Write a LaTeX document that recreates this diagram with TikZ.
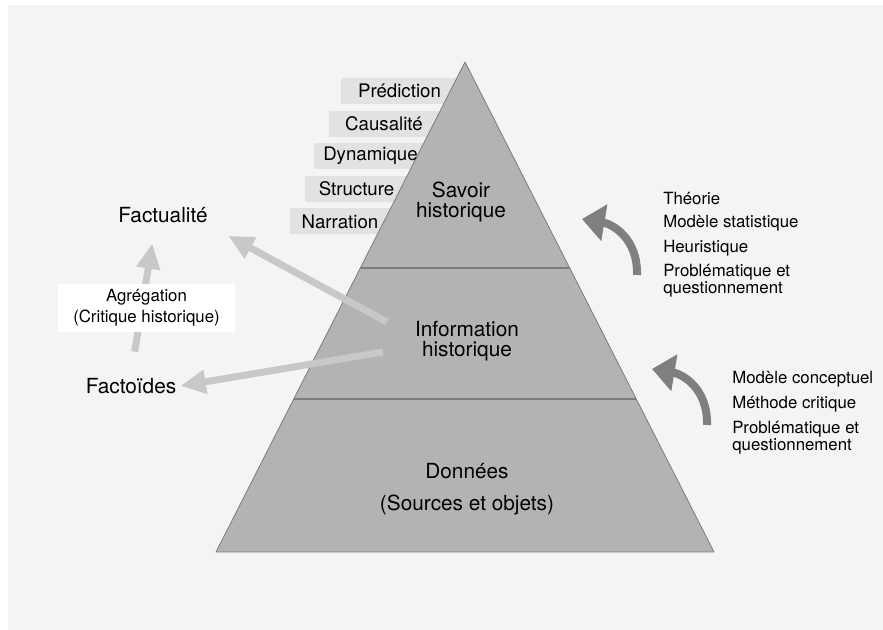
\documentclass[tikz,border=0pt]{standalone}
\usepackage{fontspec}
\setmainfont{TeX Gyre Heros}
\usetikzlibrary{arrows.meta,positioning}

\definecolor{panel}{HTML}{F4F4F4}
\definecolor{tierfill}{HTML}{B3B3B3}
\definecolor{tieredge}{HTML}{7C7C7C}
\definecolor{stepfill}{HTML}{E2E2E2}
\definecolor{flowgray}{HTML}{C8C8C8}
\definecolor{turngray}{HTML}{7F7F7F}

\tikzset{
  tier/.style={fill=tierfill, draw=tieredge, line width=0.6pt, line join=round},
  tiersep/.style={draw=tieredge, line width=0.8pt},
  tierlbl/.style={align=center, inner sep=0pt, font=\fontsize{15.6}{15.3}\selectfont},
  stepbox/.style={rectangle, fill=stepfill, minimum height=19.5pt, inner sep=0pt},
  steptext/.style={inner sep=0pt, font=\fontsize{14}{16}\selectfont},
  outlbl/.style={inner sep=3pt, font=\fontsize{15.6}{18}\selectfont},
  aggbox/.style={rectangle, fill=white, minimum width=132.75pt, minimum height=36pt,
                 align=center, inner sep=0pt, font=\fontsize{12.6}{15.75}\selectfont},
  toollist/.style={anchor=north west, align=left, inner sep=0pt,
                   font=\fontsize{12.6}{11.25}\selectfont},
  flow/.style={-{Triangle[width=17pt,length=19pt]}, line width=5.2pt, draw=flowgray},
  turn/.style={-{Triangle[width=27pt,length=17pt]}, line width=6pt, draw=turngray}
}

\begin{document}
\begin{tikzpicture}[x=0.75pt, y=-0.75pt]
  \useasboundingbox (0,0) rectangle (883,630);
  \fill[white] (0,0) rectangle (883,630);
  \fill[panel] (8,5) rectangle (883,630);

  % levels of historical knowledge, tucked behind the pyramid
  \node[stepbox, minimum width=87.75pt] (pred)   at (399.5,91)  {};
  \node[stepbox, minimum width=82.5pt]  (causal) at (384,124)   {};
  \node[stepbox, minimum width=84.75pt] (dyn)    at (370.5,156) {};
  \node[stepbox, minimum width=77.25pt] (struct) at (356.5,189) {};
  \node[stepbox, minimum width=75pt]    (narr)   at (340,221.5) {};

  % pyramid with its three tiers
  \coordinate (apex)  at (465,62);
  \coordinate (baseL) at (216,552);
  \coordinate (baseR) at (714,552);
  \draw[tier] (apex) -- (baseR) -- (baseL) -- cycle;
  \draw[tiersep] (360.3,268) -- (569.7,268);
  \draw[tiersep] (293.8,399) -- (636.2,399);

  % step names stay readable over the pyramid edge
  \node[steptext] (predtxt)   at (pred)   {Prédiction};
  \node[steptext] (causaltxt) at (causal) {Causalité};
  \node[steptext] (dyntxt)    at (dyn)    {Dynamique};
  \node[steptext] (structtxt) at (struct) {Structure};
  \node[steptext] (narrtxt)   at (narr)   {Narration};

  \node[tierlbl] (savoir) at (461,202) {Savoir\\historique};
  \node[tierlbl] (info)   at (467,341) {Information\\historique};
  \node[tierlbl, font=\fontsize{15.6}{24}\selectfont] (donnees) at (467,489)
    {Données\\(Sources et objets)};

  % outputs on the left
  \node[outlbl] (fact)    at (163,215) {Factualité};
  \node[outlbl] (factoid) at (131,386) {Factoïdes};

  \coordinate (infoUp)   at (387,322);
  \coordinate (infoDown) at (383,352);
  \draw[flow, shorten >=14pt] (infoUp) -- (fact.south east);
  \draw[flow] (infoDown) -- (factoid.east);
  \draw[flow, shorten <=17pt, shorten >=12.5pt] (factoid.north) -- ([xshift=-6pt]fact.south);

  \node[aggbox] (agg) at (146.5,308) {Agrégation\\(Critique historique)};

  % tools lifting one tier to the next
  \draw[turn] (637,275) .. controls (638,238) and (612,224) .. (582,219);
  \draw[turn] (707,425) .. controls (708,388) and (682,374) .. (652,369);

  \node[toollist] (theory) at (663,192)
    {Théorie\\[5.75pt]Modèle statistique\\[5.75pt]Heuristique\\[5.75pt]Problématique et\\questionnement};
  \node[toollist] (concept) at (732,371)
    {Modèle conceptuel\\[5.75pt]Méthode critique\\[5.75pt]Problématique et\\questionnement};

\end{tikzpicture}
\end{document}
